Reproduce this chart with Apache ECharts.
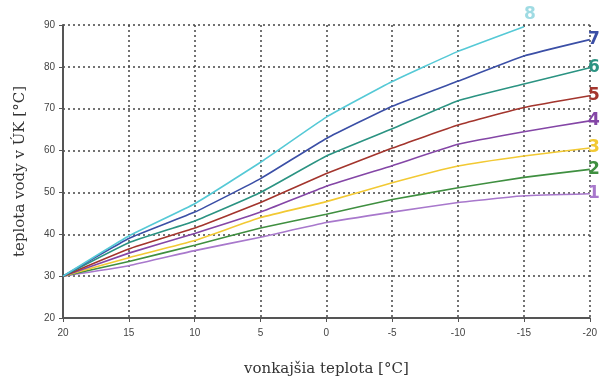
<!DOCTYPE html>
<html>
<head>
<meta charset="utf-8">
<script src="https://cdn.jsdelivr.net/npm/echarts@6/dist/echarts.min.js"></script>
<style>
  html, body { margin: 0; padding: 0; background: #fff; }
  #chart { width: 600px; height: 382px; }
</style>
</head>
<body>
<div id="chart"></div>
<script>
// outdoor temperature (x) and supply water temperature per heating curve 1..8
const outdoorTemps = [20, 15, 10, 5, 0, -5, -10, -15, -20];
const curve1 = [30, 32.5, 36.1, 39.3, 42.8, 45.3, 47.6, 49.2, 49.7];
const curve2 = [30, 33.5, 37.4, 41.5, 44.8, 48.3, 51.1, 53.6, 55.5];
const curve3 = [30, 34.4, 38.5, 44.0, 47.8, 52.3, 56.3, 58.7, 60.6];
const curve4 = [30, 35.5, 40.2, 45.3, 51.5, 56.4, 61.5, 64.5, 67.1];
const curve5 = [30, 36.5, 41.5, 47.6, 54.5, 60.6, 66.1, 70.3, 73.1];
const curve6 = [30, 38.0, 43.2, 50.0, 58.7, 65.2, 71.9, 75.9, 79.8];
const curve7 = [30, 39.0, 45.3, 53.3, 62.9, 70.6, 76.6, 82.6, 86.5];
const curve8 = [30, 39.6, 47.3, 57.2, 68.0, 76.5, 83.7, 89.6];

const curveNames = ['1', '2', '3', '4', '5', '6', '7', '8'];
const curveData = [curve1, curve2, curve3, curve4, curve5, curve6, curve7, curve8];
const curveColors = ['#a878cc', '#3f8f40', '#f2c933', '#8446a6', '#a3352d', '#2b9382', '#3b4fa6', '#55c9d6'];

const chart = echarts.init(document.getElementById('chart'));

const series = curveData.map((vals, i) => ({
  name: curveNames[i],
  type: 'line',
  data: vals.map((v, j) => [outdoorTemps[j], v]),
  smooth: 0.12,
  symbol: 'none',
  lineStyle: { color: curveColors[i], width: 1.6 },
  itemStyle: { color: curveColors[i] },
  endLabel: {
    show: true,
    formatter: '{a}',
    color: i === 7 ? '#9fdbe3' : curveColors[i],
    fontSize: 17,
    fontFamily: 'DejaVu Sans',
    fontWeight: 'bold',
    offset: i === 7 ? [20, -12] : [18, 0]
  },
  emphasis: { disabled: true }
}));

chart.setOption({
  animation: false,
  grid: { left: 63, right: 9, top: 25, bottom: 55 },
  xAxis: {
    type: 'value',
    min: -20,
    max: 20,
    interval: 5,
    inverse: true,
    name: 'vonkajšia teplota [°C]',
    nameLocation: 'middle',
    nameGap: 30,
    nameTextStyle: { fontFamily: 'DejaVu Serif', fontSize: 15, color: '#333', padding: [14, 0, 0, 0] },
    axisLine: { show: true, onZero: false, lineStyle: { color: '#555', width: 2 } },
    axisTick: { show: true, length: 4, lineStyle: { color: '#555' } },
    axisLabel: { color: '#444', fontSize: 10, fontFamily: 'Arial', margin: 10 },
    splitLine: { show: true, lineStyle: { color: '#444', type: [2, 3], width: 1.5 } }
  },
  yAxis: {
    type: 'value',
    min: 20,
    max: 90,
    interval: 10,
    name: 'teplota vody v ÚK [°C]',
    nameLocation: 'middle',
    nameGap: 35,
    nameTextStyle: { fontFamily: 'DejaVu Serif', fontSize: 15, color: '#333' },
    axisLine: { show: true, onZero: false, lineStyle: { color: '#555', width: 2 } },
    axisTick: { show: true, length: 4, lineStyle: { color: '#555' } },
    axisLabel: { color: '#444', fontSize: 10, fontFamily: 'Arial', margin: 8 },
    splitLine: { show: true, lineStyle: { color: '#444', type: [2, 3], width: 1.5 } }
  },
  series: series
});
</script>
</body>
</html>
